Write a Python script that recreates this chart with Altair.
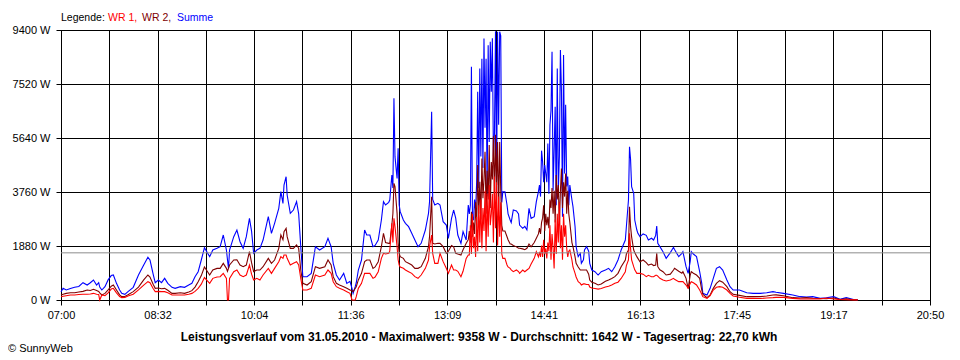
import altair as alt
import pandas as pd

# ---- data (minutes after 07:00, power in W) ----
minutes = [
    0, 2, 5, 9, 13, 17, 21, 25, 28, 31, 34, 36, 37, 39, 42, 45, 48, 50, 53, 56,
    58, 61, 64, 69, 74, 79, 83, 85, 88, 90, 93, 96, 99, 102, 106, 109, 114, 118, 122, 125,
    128, 131, 134, 137,
    142, 145, 149, 152, 155, 158, 159, 160, 161, 165, 168, 171, 174, 177, 180, 182, 184, 187, 190, 193,
    198, 201, 204, 208, 210, 212, 213, 215, 216, 219, 222, 225, 227, 229, 231, 235, 239, 243, 247, 252,
    255, 258, 260, 263,
    266, 270, 273, 276, 278, 279, 281, 282, 284, 287, 290, 292, 295, 298, 300, 303, 306, 308, 310, 313,
    314, 316, 317, 318, 319, 321, 322, 323, 324, 327, 329, 332, 335, 338, 341, 344, 348, 351, 352, 354,
    355, 357, 360,
    362, 365, 368, 370, 373, 375, 377, 379, 382, 384, 387, 389,
    390, 391, 392, 393, 394, 395, 396, 397, 398, 399, 400, 401, 402, 403, 404, 405, 406, 407, 408, 409,
    410, 411, 412, 413, 414, 415, 416, 417, 418, 419, 420, 421, 422,
    424, 426, 427, 429, 430, 432, 435, 437, 438, 441, 443, 445, 447, 449, 452, 454, 456,
    457, 458, 459, 460, 461, 462, 463, 464, 465, 466, 467, 468, 469, 470, 471, 472, 473, 474, 475, 476,
    477, 478, 479, 480, 481, 482, 483, 484, 485, 486,
    488, 489, 491, 492, 494, 496, 497, 499, 500, 502, 504, 505, 507, 510, 513, 516, 520, 523, 526, 529,
    532, 535, 539, 540, 542, 543, 544, 545, 547, 548, 550, 551,
    553, 556, 559, 561, 564, 566, 568, 569, 570, 572, 575, 578, 582, 585, 586, 590, 593, 594, 597, 599,
    601, 602, 604, 607, 610, 612, 613, 617, 620, 623, 626, 629, 632, 636, 639, 642, 648, 655, 661, 668,
    674, 680, 683, 690, 699, 706, 712, 718, 725, 731, 738, 744, 750, 757, 761,
]

summe = [
    290, 406, 348, 400, 441, 470, 603, 522, 600, 696, 522, 603, 450, 348, 464, 700, 850, 870, 580, 350,
    232, 197, 290, 441, 870, 1218, 1485, 1392, 900, 603, 696, 603, 754, 580, 441, 406, 464, 441, 522, 580,
    812, 986, 1392, 1820,
    1508, 1740, 1800, 1855, 2263, 1740, 1400, 1103, 1740, 2204, 2437, 2030, 1798, 2204, 2844, 2400, 1625, 1740, 1798, 2088,
    2901, 2321, 2670, 3191, 3771, 3365, 4003, 4293, 3655, 3017, 3133, 3423, 3000, 1855, 812, 812, 928, 1855, 1740, 1855,
    2146, 1855, 1276, 870,
    696, 928, 580, 650, 400, 232, 464, 600, 1044, 1392, 2437, 2263, 2263, 1855, 1900, 2088, 2785, 3423, 3307, 3400,
    3481, 4351, 3900, 7020, 4990, 4235, 5280, 3307, 3075, 2785, 2669, 2553, 2321, 2088, 1855, 1973, 2437, 3017, 3423, 6555,
    3500, 3307, 3365,
    3307, 2726, 2611, 2147, 2843, 3133, 2850, 2263, 1973, 2379, 2089, 3307,
    3000, 3300, 8120, 2900, 2780, 3500, 3100, 4100, 7250, 3900, 8060, 5000, 8400, 4600, 9100, 6000, 8400, 3600, 8870, 5500,
    8990, 7250, 9110, 5000, 5800, 9358, 3700, 9340, 6100, 9340, 9200, 3400, 3770,
    3771, 3307, 3000, 2785, 2700, 3133, 3100, 3000, 2611, 2495, 2560, 2440, 3191, 2843, 2900, 3423, 3771,
    4000, 3600, 5200, 4815, 4100, 4700, 4400, 4100, 5450, 3700, 6090, 6600, 8640, 3800, 5200, 6730, 3300, 8060, 3800, 5000,
    8700, 7250, 2900, 8530, 4400, 6800, 3950, 4300, 3300, 4000,
    3481, 3249, 2553, 1857, 1509, 1625, 1276, 1400, 1741, 1857, 1700, 1276, 1044, 986, 870, 986, 1044, 1102, 986, 1160,
    1393, 1741, 2089, 2553, 3481, 5338, 4900, 3945, 3713, 2785, 2437, 2321,
    2205, 2301, 2250, 2089, 2150, 2089, 2250, 2576, 1973, 1857, 1683, 1450, 1650, 1835, 1760, 1509, 1625, 1683, 1160, 928,
    1350, 1683, 1600, 1509, 986, 580, 232, 174, 406, 754, 1102, 1160, 1044, 696, 464, 348, 348, 255, 232, 232,
    255, 290, 270, 232, 174, 116, 100, 116, 58, 81, 116, 23, 81, 20, 10,
]

wr2 = [
    174, 200, 230, 255, 255, 280, 300, 348, 330, 371, 330, 300, 250, 174, 230, 350, 480, 522, 350, 180,
    116, 120, 180, 290, 450, 700, 870, 800, 550, 406, 420, 390, 406, 340, 232, 232, 250, 232, 280, 325,
    450, 638, 850, 1150,
    870, 1044, 1100, 1102, 1276, 1102, 1000, 1100, 1218, 1392, 1400, 1218, 1160, 1218, 1683, 1300, 986, 1044, 1044, 1160,
    1450, 1276, 1392, 1799, 2263, 2100, 2379, 2495, 2205, 1799, 1799, 1915, 1799, 1044, 580, 522, 638, 1160, 1102, 1160,
    1392, 1218, 812, 580,
    522, 464, 406, 348, 320, 290, 400, 464, 700, 930, 1334, 1392, 1392, 1102, 1150, 1334, 1857, 2321, 2000, 1973,
    1973, 2611, 3000, 4061, 3945, 3017, 2000, 1625, 1509, 1450, 1334, 1276, 1218, 1102, 1102, 1160, 1451, 1857, 2205, 3597,
    1973, 1950, 1973,
    1973, 1857, 1625, 1700, 1900, 1850, 1625, 1600, 1567, 1750, 1973, 2100,
    2400, 2000, 3075, 2200, 2700, 2300, 3400, 2500, 4700, 3000, 4120, 2800, 4930, 3540, 4200, 5160, 3000, 4500, 3500, 5400,
    3200, 4800, 4200, 5700, 3500, 5750, 4000, 5500, 3000, 5500, 3800, 2600, 2400,
    2400, 2200, 2100, 1950, 1950, 1900, 1850, 1800, 1800, 1780, 1750, 1800, 1950, 1850, 2000, 2150, 2300,
    2500, 2300, 2700, 2850, 3300, 2400, 3000, 2600, 2900, 2500, 3500, 3200, 3900, 3000, 3800, 2700, 4350, 3500, 4000, 2600,
    3800, 4580, 3200, 4100, 3600, 4400, 3000, 3800, 3000, 2700,
    2000, 1857, 1500, 1276, 1150, 1044, 1044, 1044, 1044, 1044, 900, 696, 620, 580, 522, 560, 650, 696, 750, 812,
    928, 1160, 1393, 1600, 1741, 3249, 2553, 2200, 1741, 1650, 1509, 1450,
    1334, 1392, 1300, 1218, 1250, 1200, 1218, 1625, 1160, 1050, 986, 870, 900, 1044, 1102, 1000, 930, 986, 754, 406,
    870, 986, 930, 870, 754, 348, 200, 81, 174, 406, 580, 673, 620, 464, 290, 197, 162, 116, 116, 116,
    140, 174, 180, 150, 81, 70, 81, 60, 50, 45, 70, 20, 40, 10, 5,
]

wr1 = [
    116, 130, 150, 174, 174, 190, 200, 200, 210, 232, 200, 190, 0, 174, 150, 250, 380, 406, 250, 120,
    81, 90, 140, 200, 350, 520, 638, 600, 400, 290, 300, 290, 290, 250, 174, 174, 174, 174, 200, 230,
    300, 406, 550, 780,
    580, 754, 800, 812, 928, 754, 0, 0, 754, 986, 1044, 870, 812, 870, 1218, 900, 696, 754, 696, 870,
    1102, 928, 1102, 1334, 1508, 1450, 1566, 1566, 1450, 1218, 1276, 1334, 1218, 754, 348, 348, 406, 870, 812, 870,
    1044, 928, 638, 464,
    406, 348, 290, 232, 0, 0, 0, 116, 406, 580, 928, 928, 928, 754, 800, 986, 1450, 1625, 1600, 1625,
    1700, 2670, 2000, 2843, 2553, 1857, 1400, 1218, 1150, 1102, 1044, 986, 928, 812, 754, 870, 1102, 1392, 1857, 2263,
    1625, 1276, 1276,
    1625, 1335, 1103, 928, 1218, 1044, 1044, 1000, 812, 1000, 1450, 1567,
    1570, 2600, 1600, 3000, 1800, 2200, 1500, 2900, 1700, 3300, 2000, 3500, 1800, 3200, 2400, 3800, 1700, 3700, 2200, 4000,
    2600, 3000, 3700, 2000, 4300, 2500, 4100, 1900, 3600, 2200, 3400, 1600, 1450,
    1450, 1218, 1150, 1100, 1050, 986, 1044, 990, 928, 1044, 986, 1044, 1100, 1250, 1450, 1683, 1500,
    1680, 1500, 1900, 1500, 2100, 1600, 1800, 1450, 2000, 1700, 2600, 1400, 2300, 1800, 1100, 2800, 1600, 3000, 2000, 3400,
    1800, 2600, 1400, 3000, 2200, 2600, 1800, 1500, 1700, 1741,
    1393, 1150, 928, 800, 638, 580, 522, 560, 560, 540, 540, 450, 420, 400, 380, 400, 450, 480, 520, 580,
    620, 750, 986, 1200, 1393, 2321, 1800, 1400, 1160, 1050, 928, 928,
    928, 900, 812, 860, 812, 812, 860, 860, 830, 754, 696, 660, 696, 754, 720, 638, 638, 638, 522, 406,
    580, 638, 600, 522, 348, 200, 116, 58, 150, 348, 441, 464, 441, 348, 232, 139, 93, 58, 58, 50,
    70, 81, 90, 93, 58, 40, 35, 45, 35, 70, 35, 15, 10, 5, 5,
]

assert len(minutes) == len(summe) == len(wr1) == len(wr2)

x_tick_labels = ["07:00", "08:32", "10:04", "11:36", "13:09",
                 "14:41", "16:13", "17:45", "19:17", "20:50"]
y_tick_values = [0, 1880, 3760, 5640, 7520, 9400]
average_w = 1642
legend_parts = [("Legende:", "black"), ("WR 1,", "#ff0000"),
                ("WR 2,", "#800000"), ("Summe", "#0000ff")]
bottom_title = ("Leistungsverlauf vom 31.05.2010 - Maximalwert: 9358 W - "
                "Durchschnitt: 1642 W - Tagesertrag: 22,70 kWh")
copyright_text = "© SunnyWeb"

# ---- build chart ----
X_MAX = 830
N_INT = 18
x_tick_values = [i * X_MAX / N_INT for i in range(N_INT + 1)]
label_array = [x_tick_labels[i // 2] if i % 2 == 0 else "" for i in range(N_INT + 1)]
label_expr = ("[" + ",".join("'%s'" % s for s in label_array) + "]"
              "[round(datum.value * %d / %d)]" % (N_INT, X_MAX))

df = pd.DataFrame({"t": minutes, "summe": summe, "wr1": wr1, "wr2": wr2})

FONT = "Liberation Sans"
PLOT_W, PLOT_H = 869, 270

x_axis = alt.Axis(values=x_tick_values, labelExpr=label_expr, title=None,
                  grid=True, labelOverlap=False, labelFlush=False,
                  tickSize=5, labelPadding=4)
y_axis = alt.Axis(values=y_tick_values, labelExpr="datum.value + ' W'", title=None,
                  grid=True, labelOverlap=False, labelFlush=False,
                  tickSize=5, labelPadding=6)
x_scale = alt.Scale(domain=[0, X_MAX], nice=False, zero=False)
y_scale = alt.Scale(domain=[0, 9400], nice=False)

def line(field, color):
    return alt.Chart(df).mark_line(color=color, strokeWidth=1.1).encode(
        x=alt.X("t:Q", scale=x_scale, axis=x_axis),
        y=alt.Y(field + ":Q", scale=y_scale, axis=y_axis),
    )

blue = line("summe", "#0000ff")
dark = line("wr2", "#800000")
red = line("wr1", "#ff0000")

avg_rule = alt.Chart(pd.DataFrame({"avg": [average_w]})).mark_rule(
    color="#8c8c8c", strokeWidth=1).encode(
    y=alt.Y("avg:Q", scale=y_scale, axis=y_axis))

legend_x = [0, 47, 81, 116]
texts = []
for (txt, col), lx in zip(legend_parts, legend_x):
    texts.append(alt.Chart(pd.DataFrame({"s": [txt]})).mark_text(
        align="left", baseline="alphabetic", font=FONT, fontSize=10.5, color=col).encode(
        text="s:N", x=alt.value(lx), y=alt.value(-9)))

title_layer = alt.Chart(pd.DataFrame({"s": [bottom_title]})).mark_text(
    align="center", baseline="alphabetic", font=FONT, fontSize=12,
    fontWeight="bold", color="black").encode(
    text="s:N", x=alt.value(418), y=alt.value(311))

copy_layer = alt.Chart(pd.DataFrame({"s": [copyright_text]})).mark_text(
    align="left", baseline="alphabetic", font=FONT, fontSize=11, color="black").encode(
    text="s:N", x=alt.value(-53), y=alt.value(322))

chart = alt.layer(blue, dark, red, avg_rule, *texts, title_layer, copy_layer).properties(
    width=PLOT_W, height=PLOT_H,
    autosize=alt.AutoSizeParams(type="none"),
    padding={"left": 53, "top": 22, "right": 20, "bottom": 55},
    background="white",
).configure_view(stroke="black", strokeWidth=1).configure_axis(
    labelFont=FONT, labelFontSize=11, labelColor="black",
    tickColor="black", gridColor="black", gridOpacity=1, gridWidth=1,
    domainColor="black", domainWidth=1, tickWidth=1,
)

chart.save("out.html", embed_options={"renderer": "svg", "actions": False})
